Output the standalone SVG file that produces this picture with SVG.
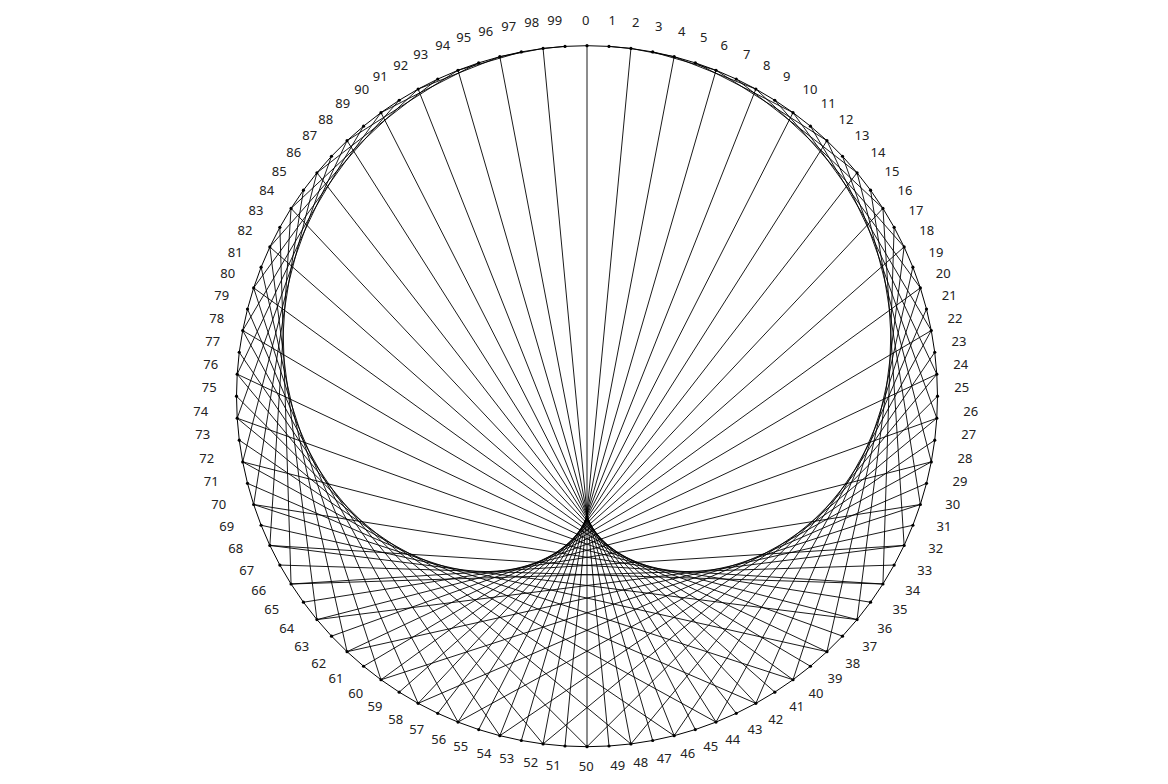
<svg xmlns="http://www.w3.org/2000/svg" width="1168" height="784" viewBox="0 0 1168 784">
<style>
.bg{fill:#fff}
.rim{fill:none;stroke:#000;stroke-width:1}
.edges line{stroke:#000;stroke-width:0.9;fill:none}
.node circle{fill:#000}
.node text{font-family:"Noto Sans","DejaVu Sans",sans-serif;font-size:13px;fill:#222;text-anchor:middle}
</style>
<rect class="bg" x="0" y="0" width="1168" height="784"/>
<g id="rim">
<polygon class="rim" points="587,45.7 609.01,46.39 630.93,48.46 652.68,51.91 674.17,56.71 695.31,62.85 716.03,70.31 736.24,79.06 755.85,89.05 774.81,100.26 793.02,112.64 810.42,126.14 826.93,140.7 842.5,156.27 857.06,172.78 870.56,190.18 882.94,208.39 894.15,227.35 904.14,246.96 912.89,267.17 920.35,287.89 926.49,309.03 931.29,330.52 934.74,352.27 936.81,374.19 937.5,396.2 936.81,418.21 934.74,440.13 931.29,461.88 926.49,483.37 920.35,504.51 912.89,525.23 904.14,545.44 894.15,565.05 882.94,584.01 870.56,602.22 857.06,619.62 842.5,636.13 826.93,651.7 810.42,666.26 793.02,679.76 774.81,692.14 755.85,703.35 736.24,713.34 716.03,722.09 695.31,729.55 674.17,735.69 652.68,740.49 630.93,743.94 609.01,746.01 587,746.7 564.99,746.01 543.07,743.94 521.32,740.49 499.83,735.69 478.69,729.55 457.97,722.09 437.76,713.34 418.15,703.35 399.19,692.14 380.98,679.76 363.58,666.26 347.07,651.7 331.5,636.13 316.94,619.62 303.44,602.22 291.06,584.01 279.85,565.05 269.86,545.44 261.11,525.23 253.65,504.51 247.51,483.37 242.71,461.88 239.26,440.13 237.19,418.21 236.5,396.2 237.19,374.19 239.26,352.27 242.71,330.52 247.51,309.03 253.65,287.89 261.11,267.17 269.86,246.96 279.85,227.35 291.06,208.39 303.44,190.18 316.94,172.78 331.5,156.27 347.07,140.7 363.58,126.14 380.98,112.64 399.19,100.26 418.15,89.05 437.76,79.06 457.97,70.31 478.69,62.85 499.83,56.71 521.32,51.91 543.07,48.46 564.99,46.39"/>
</g>
<g id="edges" class="edges">
<line x1="609.01" y1="46.39" x2="630.93" y2="48.46"/>
<line x1="630.93" y1="48.46" x2="674.17" y2="56.71"/>
<line x1="652.68" y1="51.91" x2="716.03" y2="70.31"/>
<line x1="674.17" y1="56.71" x2="755.85" y2="89.05"/>
<line x1="695.31" y1="62.85" x2="793.02" y2="112.64"/>
<line x1="716.03" y1="70.31" x2="826.93" y2="140.7"/>
<line x1="736.24" y1="79.06" x2="857.06" y2="172.78"/>
<line x1="755.85" y1="89.05" x2="882.94" y2="208.39"/>
<line x1="774.81" y1="100.26" x2="904.14" y2="246.96"/>
<line x1="793.02" y1="112.64" x2="920.35" y2="287.89"/>
<line x1="810.42" y1="126.14" x2="931.29" y2="330.52"/>
<line x1="826.93" y1="140.7" x2="936.81" y2="374.19"/>
<line x1="842.5" y1="156.27" x2="936.81" y2="418.21"/>
<line x1="857.06" y1="172.78" x2="931.29" y2="461.88"/>
<line x1="870.56" y1="190.18" x2="920.35" y2="504.51"/>
<line x1="882.94" y1="208.39" x2="904.14" y2="545.44"/>
<line x1="894.15" y1="227.35" x2="882.94" y2="584.01"/>
<line x1="904.14" y1="246.96" x2="857.06" y2="619.62"/>
<line x1="912.89" y1="267.17" x2="826.93" y2="651.7"/>
<line x1="920.35" y1="287.89" x2="793.02" y2="679.76"/>
<line x1="926.49" y1="309.03" x2="755.85" y2="703.35"/>
<line x1="931.29" y1="330.52" x2="716.03" y2="722.09"/>
<line x1="934.74" y1="352.27" x2="674.17" y2="735.69"/>
<line x1="936.81" y1="374.19" x2="630.93" y2="743.94"/>
<line x1="937.5" y1="396.2" x2="587" y2="746.7"/>
<line x1="936.81" y1="418.21" x2="543.07" y2="743.94"/>
<line x1="934.74" y1="440.13" x2="499.83" y2="735.69"/>
<line x1="931.29" y1="461.88" x2="457.97" y2="722.09"/>
<line x1="926.49" y1="483.37" x2="418.15" y2="703.35"/>
<line x1="920.35" y1="504.51" x2="380.98" y2="679.76"/>
<line x1="912.89" y1="525.23" x2="347.07" y2="651.7"/>
<line x1="904.14" y1="545.44" x2="316.94" y2="619.62"/>
<line x1="894.15" y1="565.05" x2="291.06" y2="584.01"/>
<line x1="882.94" y1="584.01" x2="269.86" y2="545.44"/>
<line x1="870.56" y1="602.22" x2="253.65" y2="504.51"/>
<line x1="857.06" y1="619.62" x2="242.71" y2="461.88"/>
<line x1="842.5" y1="636.13" x2="237.19" y2="418.21"/>
<line x1="826.93" y1="651.7" x2="237.19" y2="374.19"/>
<line x1="810.42" y1="666.26" x2="242.71" y2="330.52"/>
<line x1="793.02" y1="679.76" x2="253.65" y2="287.89"/>
<line x1="774.81" y1="692.14" x2="269.86" y2="246.96"/>
<line x1="755.85" y1="703.35" x2="291.06" y2="208.39"/>
<line x1="736.24" y1="713.34" x2="316.94" y2="172.78"/>
<line x1="716.03" y1="722.09" x2="347.07" y2="140.7"/>
<line x1="695.31" y1="729.55" x2="380.98" y2="112.64"/>
<line x1="674.17" y1="735.69" x2="418.15" y2="89.05"/>
<line x1="652.68" y1="740.49" x2="457.97" y2="70.31"/>
<line x1="630.93" y1="743.94" x2="499.83" y2="56.71"/>
<line x1="609.01" y1="746.01" x2="543.07" y2="48.46"/>
<line x1="587" y1="746.7" x2="587" y2="45.7"/>
<line x1="564.99" y1="746.01" x2="630.93" y2="48.46"/>
<line x1="543.07" y1="743.94" x2="674.17" y2="56.71"/>
<line x1="521.32" y1="740.49" x2="716.03" y2="70.31"/>
<line x1="499.83" y1="735.69" x2="755.85" y2="89.05"/>
<line x1="478.69" y1="729.55" x2="793.02" y2="112.64"/>
<line x1="457.97" y1="722.09" x2="826.93" y2="140.7"/>
<line x1="437.76" y1="713.34" x2="857.06" y2="172.78"/>
<line x1="418.15" y1="703.35" x2="882.94" y2="208.39"/>
<line x1="399.19" y1="692.14" x2="904.14" y2="246.96"/>
<line x1="380.98" y1="679.76" x2="920.35" y2="287.89"/>
<line x1="363.58" y1="666.26" x2="931.29" y2="330.52"/>
<line x1="347.07" y1="651.7" x2="936.81" y2="374.19"/>
<line x1="331.5" y1="636.13" x2="936.81" y2="418.21"/>
<line x1="316.94" y1="619.62" x2="931.29" y2="461.88"/>
<line x1="303.44" y1="602.22" x2="920.35" y2="504.51"/>
<line x1="291.06" y1="584.01" x2="904.14" y2="545.44"/>
<line x1="279.85" y1="565.05" x2="882.94" y2="584.01"/>
<line x1="269.86" y1="545.44" x2="857.06" y2="619.62"/>
<line x1="261.11" y1="525.23" x2="826.93" y2="651.7"/>
<line x1="253.65" y1="504.51" x2="793.02" y2="679.76"/>
<line x1="247.51" y1="483.37" x2="755.85" y2="703.35"/>
<line x1="242.71" y1="461.88" x2="716.03" y2="722.09"/>
<line x1="239.26" y1="440.13" x2="674.17" y2="735.69"/>
<line x1="237.19" y1="418.21" x2="630.93" y2="743.94"/>
<line x1="236.5" y1="396.2" x2="587" y2="746.7"/>
<line x1="237.19" y1="374.19" x2="543.07" y2="743.94"/>
<line x1="239.26" y1="352.27" x2="499.83" y2="735.69"/>
<line x1="242.71" y1="330.52" x2="457.97" y2="722.09"/>
<line x1="247.51" y1="309.03" x2="418.15" y2="703.35"/>
<line x1="253.65" y1="287.89" x2="380.98" y2="679.76"/>
<line x1="261.11" y1="267.17" x2="347.07" y2="651.7"/>
<line x1="269.86" y1="246.96" x2="316.94" y2="619.62"/>
<line x1="279.85" y1="227.35" x2="291.06" y2="584.01"/>
<line x1="291.06" y1="208.39" x2="269.86" y2="545.44"/>
<line x1="303.44" y1="190.18" x2="253.65" y2="504.51"/>
<line x1="316.94" y1="172.78" x2="242.71" y2="461.88"/>
<line x1="331.5" y1="156.27" x2="237.19" y2="418.21"/>
<line x1="347.07" y1="140.7" x2="237.19" y2="374.19"/>
<line x1="363.58" y1="126.14" x2="242.71" y2="330.52"/>
<line x1="380.98" y1="112.64" x2="253.65" y2="287.89"/>
<line x1="399.19" y1="100.26" x2="269.86" y2="246.96"/>
<line x1="418.15" y1="89.05" x2="291.06" y2="208.39"/>
<line x1="437.76" y1="79.06" x2="316.94" y2="172.78"/>
<line x1="457.97" y1="70.31" x2="347.07" y2="140.7"/>
<line x1="478.69" y1="62.85" x2="380.98" y2="112.64"/>
<line x1="499.83" y1="56.71" x2="418.15" y2="89.05"/>
<line x1="521.32" y1="51.91" x2="457.97" y2="70.31"/>
<line x1="543.07" y1="48.46" x2="499.83" y2="56.71"/>
<line x1="564.99" y1="46.39" x2="543.07" y2="48.46"/>
</g>
<g id="nodes">
<g id="n0" class="node"><circle cx="587" cy="45.7" r="1.6"/><text x="585.7" y="24.6">0</text></g>
<g id="n1" class="node"><circle cx="609.01" cy="46.39" r="1.6"/><text x="612.3" y="25.3">1</text></g>
<g id="n2" class="node"><circle cx="630.93" cy="48.46" r="1.6"/><text x="635.7" y="27.3">2</text></g>
<g id="n3" class="node"><circle cx="652.68" cy="51.91" r="1.6"/><text x="658.7" y="31.3">3</text></g>
<g id="n4" class="node"><circle cx="674.17" cy="56.71" r="1.6"/><text x="681.7" y="36.3">4</text></g>
<g id="n5" class="node"><circle cx="695.31" cy="62.85" r="1.6"/><text x="703.7" y="41.9">5</text></g>
<g id="n6" class="node"><circle cx="716.03" cy="70.31" r="1.6"/><text x="724.3" y="49.9">6</text></g>
<g id="n7" class="node"><circle cx="736.24" cy="79.06" r="1.6"/><text x="746.7" y="58.9">7</text></g>
<g id="n8" class="node"><circle cx="755.85" cy="89.05" r="1.6"/><text x="766.7" y="69.9">8</text></g>
<g id="n9" class="node"><circle cx="774.81" cy="100.26" r="1.6"/><text x="786.7" y="81.3">9</text></g>
<g id="n10" class="node"><circle cx="793.02" cy="112.64" r="1.6"/><text x="810" y="93.9">10</text></g>
<g id="n11" class="node"><circle cx="810.42" cy="126.14" r="1.6"/><text x="828.3" y="107.9">11</text></g>
<g id="n12" class="node"><circle cx="826.93" cy="140.7" r="1.6"/><text x="846" y="123.9">12</text></g>
<g id="n13" class="node"><circle cx="842.5" cy="156.27" r="1.6"/><text x="862" y="139.9">13</text></g>
<g id="n14" class="node"><circle cx="857.06" cy="172.78" r="1.6"/><text x="878" y="157.3">14</text></g>
<g id="n15" class="node"><circle cx="870.56" cy="190.18" r="1.6"/><text x="892" y="176.3">15</text></g>
<g id="n16" class="node"><circle cx="882.94" cy="208.39" r="1.6"/><text x="905" y="195.3">16</text></g>
<g id="n17" class="node"><circle cx="894.15" cy="227.35" r="1.6"/><text x="916" y="215.3">17</text></g>
<g id="n18" class="node"><circle cx="904.14" cy="246.96" r="1.6"/><text x="926.7" y="235.3">18</text></g>
<g id="n19" class="node"><circle cx="912.89" cy="267.17" r="1.6"/><text x="936" y="257.3">19</text></g>
<g id="n20" class="node"><circle cx="920.35" cy="287.89" r="1.6"/><text x="943.3" y="277.9">20</text></g>
<g id="n21" class="node"><circle cx="926.49" cy="309.03" r="1.6"/><text x="949.3" y="300.3">21</text></g>
<g id="n22" class="node"><circle cx="931.29" cy="330.52" r="1.6"/><text x="955" y="322.9">22</text></g>
<g id="n23" class="node"><circle cx="934.74" cy="352.27" r="1.6"/><text x="959" y="346.3">23</text></g>
<g id="n24" class="node"><circle cx="936.81" cy="374.19" r="1.6"/><text x="960.7" y="369.3">24</text></g>
<g id="n25" class="node"><circle cx="937.5" cy="396.2" r="1.6"/><text x="961.7" y="391.9">25</text></g>
<g id="n26" class="node"><circle cx="936.81" cy="418.21" r="1.6"/><text x="970.7" y="416.3">26</text></g>
<g id="n27" class="node"><circle cx="934.74" cy="440.13" r="1.6"/><text x="968.7" y="438.9">27</text></g>
<g id="n28" class="node"><circle cx="931.29" cy="461.88" r="1.6"/><text x="965" y="463.3">28</text></g>
<g id="n29" class="node"><circle cx="926.49" cy="483.37" r="1.6"/><text x="960" y="486.3">29</text></g>
<g id="n30" class="node"><circle cx="920.35" cy="504.51" r="1.6"/><text x="952.7" y="509.3">30</text></g>
<g id="n31" class="node"><circle cx="912.89" cy="525.23" r="1.6"/><text x="944" y="531.3">31</text></g>
<g id="n32" class="node"><circle cx="904.14" cy="545.44" r="1.6"/><text x="935.7" y="553.3">32</text></g>
<g id="n33" class="node"><circle cx="894.15" cy="565.05" r="1.6"/><text x="924.7" y="574.6">33</text></g>
<g id="n34" class="node"><circle cx="882.94" cy="584.01" r="1.6"/><text x="912.7" y="595.3">34</text></g>
<g id="n35" class="node"><circle cx="870.56" cy="602.22" r="1.6"/><text x="900" y="613.9">35</text></g>
<g id="n36" class="node"><circle cx="857.06" cy="619.62" r="1.6"/><text x="884.7" y="633.3">36</text></g>
<g id="n37" class="node"><circle cx="842.5" cy="636.13" r="1.6"/><text x="869.7" y="650.9">37</text></g>
<g id="n38" class="node"><circle cx="826.93" cy="651.7" r="1.6"/><text x="852.7" y="668.3">38</text></g>
<g id="n39" class="node"><circle cx="810.42" cy="666.26" r="1.6"/><text x="835" y="683.3">39</text></g>
<g id="n40" class="node"><circle cx="793.02" cy="679.76" r="1.6"/><text x="816" y="697.9">40</text></g>
<g id="n41" class="node"><circle cx="774.81" cy="692.14" r="1.6"/><text x="796.7" y="711.3">41</text></g>
<g id="n42" class="node"><circle cx="755.85" cy="703.35" r="1.6"/><text x="775.7" y="723.6">42</text></g>
<g id="n43" class="node"><circle cx="736.24" cy="713.34" r="1.6"/><text x="755" y="734.3">43</text></g>
<g id="n44" class="node"><circle cx="716.03" cy="722.09" r="1.6"/><text x="732.7" y="743.6">44</text></g>
<g id="n45" class="node"><circle cx="695.31" cy="729.55" r="1.6"/><text x="710.7" y="751.3">45</text></g>
<g id="n46" class="node"><circle cx="674.17" cy="735.69" r="1.6"/><text x="687.7" y="758.3">46</text></g>
<g id="n47" class="node"><circle cx="652.68" cy="740.49" r="1.6"/><text x="664.3" y="763.3">47</text></g>
<g id="n48" class="node"><circle cx="630.93" cy="743.94" r="1.6"/><text x="640.7" y="767.3">48</text></g>
<g id="n49" class="node"><circle cx="609.01" cy="746.01" r="1.6"/><text x="617.7" y="769.6">49</text></g>
<g id="n50" class="node"><circle cx="587" cy="746.7" r="1.6"/><text x="586.2" y="770.6">50</text></g>
<g id="n51" class="node"><circle cx="564.99" cy="746.01" r="1.6"/><text x="553.3" y="769.6">51</text></g>
<g id="n52" class="node"><circle cx="543.07" cy="743.94" r="1.6"/><text x="530.7" y="767.3">52</text></g>
<g id="n53" class="node"><circle cx="521.32" cy="740.49" r="1.6"/><text x="506.7" y="763.3">53</text></g>
<g id="n54" class="node"><circle cx="499.83" cy="735.69" r="1.6"/><text x="484" y="758.3">54</text></g>
<g id="n55" class="node"><circle cx="478.69" cy="729.55" r="1.6"/><text x="460.7" y="751.3">55</text></g>
<g id="n56" class="node"><circle cx="457.97" cy="722.09" r="1.6"/><text x="438.7" y="743.6">56</text></g>
<g id="n57" class="node"><circle cx="437.76" cy="713.34" r="1.6"/><text x="416.7" y="734.3">57</text></g>
<g id="n58" class="node"><circle cx="418.15" cy="703.35" r="1.6"/><text x="395.7" y="723.6">58</text></g>
<g id="n59" class="node"><circle cx="399.19" cy="692.14" r="1.6"/><text x="375" y="711.3">59</text></g>
<g id="n60" class="node"><circle cx="380.98" cy="679.76" r="1.6"/><text x="355.7" y="697.9">60</text></g>
<g id="n61" class="node"><circle cx="363.58" cy="666.26" r="1.6"/><text x="336" y="683.3">61</text></g>
<g id="n62" class="node"><circle cx="347.07" cy="651.7" r="1.6"/><text x="318.7" y="668.3">62</text></g>
<g id="n63" class="node"><circle cx="331.5" cy="636.13" r="1.6"/><text x="301.7" y="650.9">63</text></g>
<g id="n64" class="node"><circle cx="316.94" cy="619.62" r="1.6"/><text x="286.7" y="633.3">64</text></g>
<g id="n65" class="node"><circle cx="303.44" cy="602.22" r="1.6"/><text x="271.7" y="613.9">65</text></g>
<g id="n66" class="node"><circle cx="291.06" cy="584.01" r="1.6"/><text x="258.7" y="595.3">66</text></g>
<g id="n67" class="node"><circle cx="279.85" cy="565.05" r="1.6"/><text x="246.7" y="574.6">67</text></g>
<g id="n68" class="node"><circle cx="269.86" cy="545.44" r="1.6"/><text x="235.7" y="553.3">68</text></g>
<g id="n69" class="node"><circle cx="261.11" cy="525.23" r="1.6"/><text x="226.7" y="531.3">69</text></g>
<g id="n70" class="node"><circle cx="253.65" cy="504.51" r="1.6"/><text x="218.7" y="509.3">70</text></g>
<g id="n71" class="node"><circle cx="247.51" cy="483.37" r="1.6"/><text x="211.3" y="486.3">71</text></g>
<g id="n72" class="node"><circle cx="242.71" cy="461.88" r="1.6"/><text x="206.7" y="463.3">72</text></g>
<g id="n73" class="node"><circle cx="239.26" cy="440.13" r="1.6"/><text x="202.7" y="438.9">73</text></g>
<g id="n74" class="node"><circle cx="237.19" cy="418.21" r="1.6"/><text x="200.7" y="416.3">74</text></g>
<g id="n75" class="node"><circle cx="236.5" cy="396.2" r="1.6"/><text x="209.3" y="391.9">75</text></g>
<g id="n76" class="node"><circle cx="237.19" cy="374.19" r="1.6"/><text x="210.7" y="369.3">76</text></g>
<g id="n77" class="node"><circle cx="239.26" cy="352.27" r="1.6"/><text x="212.7" y="346.3">77</text></g>
<g id="n78" class="node"><circle cx="242.71" cy="330.52" r="1.6"/><text x="216.7" y="322.9">78</text></g>
<g id="n79" class="node"><circle cx="247.51" cy="309.03" r="1.6"/><text x="221.7" y="300.3">79</text></g>
<g id="n80" class="node"><circle cx="253.65" cy="287.89" r="1.6"/><text x="227.7" y="277.9">80</text></g>
<g id="n81" class="node"><circle cx="261.11" cy="267.17" r="1.6"/><text x="235.3" y="257.3">81</text></g>
<g id="n82" class="node"><circle cx="269.86" cy="246.96" r="1.6"/><text x="245" y="235.3">82</text></g>
<g id="n83" class="node"><circle cx="279.85" cy="227.35" r="1.6"/><text x="256" y="215.3">83</text></g>
<g id="n84" class="node"><circle cx="291.06" cy="208.39" r="1.6"/><text x="266.7" y="195.3">84</text></g>
<g id="n85" class="node"><circle cx="303.44" cy="190.18" r="1.6"/><text x="279.3" y="176.3">85</text></g>
<g id="n86" class="node"><circle cx="316.94" cy="172.78" r="1.6"/><text x="293.7" y="157.3">86</text></g>
<g id="n87" class="node"><circle cx="331.5" cy="156.27" r="1.6"/><text x="309.7" y="139.9">87</text></g>
<g id="n88" class="node"><circle cx="347.07" cy="140.7" r="1.6"/><text x="325.7" y="123.9">88</text></g>
<g id="n89" class="node"><circle cx="363.58" cy="126.14" r="1.6"/><text x="342.7" y="107.9">89</text></g>
<g id="n90" class="node"><circle cx="380.98" cy="112.64" r="1.6"/><text x="361.7" y="93.9">90</text></g>
<g id="n91" class="node"><circle cx="399.19" cy="100.26" r="1.6"/><text x="380.3" y="81.3">91</text></g>
<g id="n92" class="node"><circle cx="418.15" cy="89.05" r="1.6"/><text x="400.7" y="69.9">92</text></g>
<g id="n93" class="node"><circle cx="437.76" cy="79.06" r="1.6"/><text x="420.7" y="58.9">93</text></g>
<g id="n94" class="node"><circle cx="457.97" cy="70.31" r="1.6"/><text x="442.7" y="49.9">94</text></g>
<g id="n95" class="node"><circle cx="478.69" cy="62.85" r="1.6"/><text x="463.7" y="41.9">95</text></g>
<g id="n96" class="node"><circle cx="499.83" cy="56.71" r="1.6"/><text x="485.7" y="36.3">96</text></g>
<g id="n97" class="node"><circle cx="521.32" cy="51.91" r="1.6"/><text x="508.7" y="31.3">97</text></g>
<g id="n98" class="node"><circle cx="543.07" cy="48.46" r="1.6"/><text x="531.7" y="27.3">98</text></g>
<g id="n99" class="node"><circle cx="564.99" cy="46.39" r="1.6"/><text x="554.7" y="25.3">99</text></g>
</g>
</svg>
